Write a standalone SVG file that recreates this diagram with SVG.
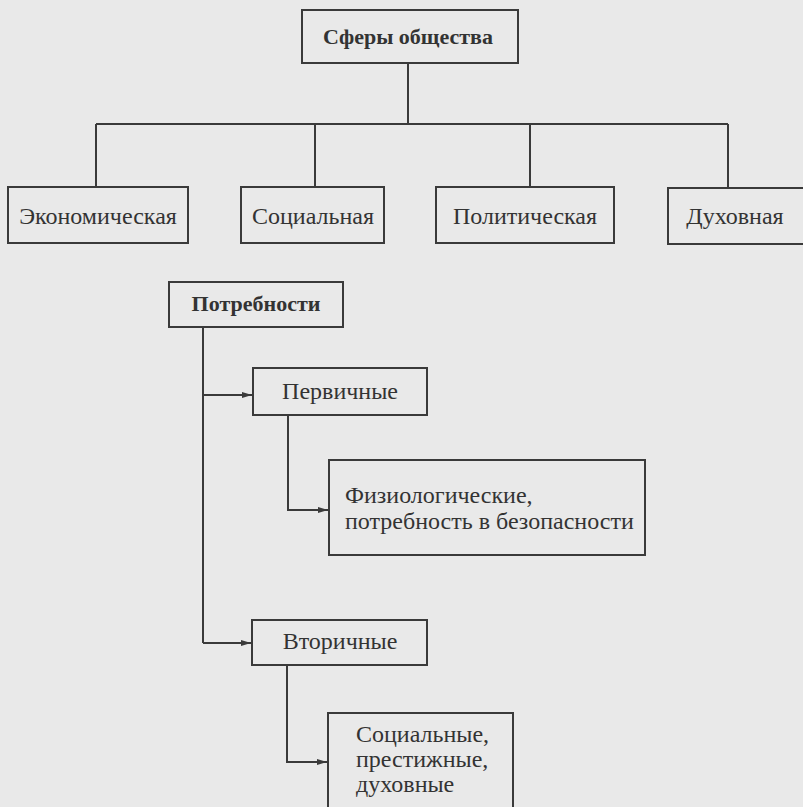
<svg xmlns="http://www.w3.org/2000/svg" width="803" height="807" viewBox="0 0 803 807" font-family="'Liberation Serif', 'Times New Roman', serif">
<defs>
<style>
.bg{fill:#e9e9e9}
.box{fill:none;stroke:#3a3a3a;stroke-width:2}
.ln{fill:none;stroke:#3a3a3a;stroke-width:2}
text{font-family:'Liberation Serif','Times New Roman',serif}
.t{font-size:24px;fill:#333}
.b{font-size:22px;font-weight:bold;fill:#333}
</style>
<marker id="ah" viewBox="0 0 10 8" refX="10" refY="4" markerWidth="10" markerHeight="8" markerUnits="userSpaceOnUse" orient="auto">
<path d="M0,1 L10,4 L0,7 Z" fill="#3a3a3a"/>
</marker>
</defs>
<rect class="bg" x="0" y="0" width="803" height="807"/>
<g id="connectors">
<path class="ln" d="M408,63 V124 M96,124 H728 M96,124 V187 M315,124 V187 M530,124 V187 M728,124 V188"/>
<path class="ln" d="M203,327 V643"/>
<path class="ln" d="M203,395 H252" marker-end="url(#ah)"/>
<path class="ln" d="M203,643 H251" marker-end="url(#ah)"/>
<path class="ln" d="M288,415 V510 H328" marker-end="url(#ah)"/>
<path class="ln" d="M287,665 V762 H327" marker-end="url(#ah)"/>
</g>
<g id="sfery">
<rect class="box" x="302" y="10" width="216" height="53"/>
<text class="b" x="408" y="44" text-anchor="middle">Сферы общества</text>
</g>
<g id="econ">
<rect class="box" x="8" y="187" width="180" height="56"/>
<text class="t" x="98" y="224" text-anchor="middle">Экономическая</text>
</g>
<g id="soc">
<rect class="box" x="241" y="187" width="143" height="56"/>
<text class="t" x="313" y="224" text-anchor="middle">Социальная</text>
</g>
<g id="polit">
<rect class="box" x="436" y="187" width="178" height="56"/>
<text class="t" x="525" y="224" text-anchor="middle">Политическая</text>
</g>
<g id="duh">
<rect class="box" x="668" y="188" width="150" height="56"/>
<text class="t" x="735" y="224" text-anchor="middle">Духовная</text>
</g>
<g id="potr">
<rect class="box" x="169" y="282" width="174" height="45"/>
<text class="b" x="256" y="311" text-anchor="middle">Потребности</text>
</g>
<g id="perv">
<rect class="box" x="253" y="368" width="174" height="47"/>
<text class="t" x="340" y="399" text-anchor="middle">Первичные</text>
</g>
<g id="fiz">
<rect class="box" x="329" y="460" width="316" height="95"/>
<text class="t" x="345" y="503">Физиологические,</text>
<text class="t" x="345" y="529">потребность в безопасности</text>
</g>
<g id="vtor">
<rect class="box" x="252" y="620" width="175" height="45"/>
<text class="t" x="340" y="649" text-anchor="middle">Вторичные</text>
</g>
<g id="socprest">
<rect class="box" x="328" y="713" width="185" height="110"/>
<text class="t" x="356" y="742">Социальные,</text>
<text class="t" x="356" y="767">престижные,</text>
<text class="t" x="356" y="792">духовные</text>
</g>
</svg>
